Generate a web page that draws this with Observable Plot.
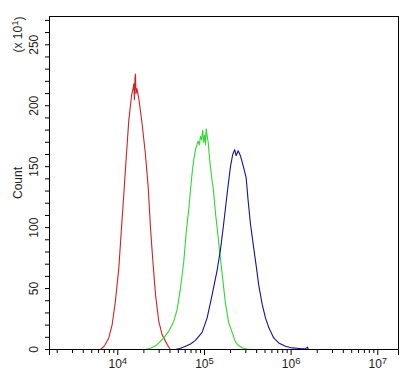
<!DOCTYPE html>
<html><head><meta charset="utf-8">
<script src="https://cdn.jsdelivr.net/npm/d3@7"></script>
<script src="https://cdn.jsdelivr.net/npm/@observablehq/plot@0.6"></script>
<style>body{margin:0;background:#fff}</style>
</head><body><div id="chart"></div>
<script>
// x positions are log10 of fluorescence intensity; counts are in units of 10
const redLog = [3.800, 3.847, 3.896, 3.935, 3.973, 4.012, 4.043, 4.069, 4.097, 4.127, 4.158, 4.176, 4.185, 4.192, 4.198, 4.204, 4.210, 4.221, 4.242, 4.281, 4.319, 4.351, 4.377, 4.404, 4.435, 4.473, 4.512, 4.570, 4.608];
const redCount = [0, 3, 9.5, 20.5, 40, 67, 100, 127, 157, 188, 208, 214, 218, 205, 222, 226, 210, 214, 206, 185, 160, 133, 100, 73, 45, 23, 12, 4, 0];

const greenLog = [4.319, 4.377, 4.435, 4.473, 4.531, 4.588, 4.646, 4.685, 4.723, 4.761, 4.789, 4.819, 4.839, 4.858, 4.877, 4.896, 4.927, 4.942, 4.954, 4.968, 4.980, 4.992, 5.003, 5.012, 5.020, 5.030, 5.043, 5.061, 5.089, 5.100, 5.107, 5.127, 5.146, 5.176, 5.204, 5.242, 5.280, 5.320, 5.358, 5.396, 5.450, 5.519];
const greenCount = [0, 1, 3, 5.5, 9.5, 15, 23, 33, 50, 72, 96, 115, 131, 145, 156, 164, 171, 168, 175, 172, 180, 170, 176, 168, 181, 176, 170, 155, 138, 133, 128, 112, 100, 80, 62, 38, 22, 14, 6, 3, 1, 0];

const blueLog = [4.666, 4.723, 4.781, 4.839, 4.896, 4.973, 5.031, 5.089, 5.146, 5.185, 5.223, 5.262, 5.300, 5.326, 5.349, 5.365, 5.389, 5.415, 5.453, 5.481, 5.504, 5.531, 5.569, 5.600, 5.626, 5.666, 5.704, 5.742, 5.799, 5.857, 5.934, 6.012, 6.069, 6.127, 6.165, 6.188, 6.199];
const blueCount = [0, 1, 2.7, 4.5, 7.5, 14, 26, 45, 65, 82, 104, 128, 150, 160, 164, 159, 163, 159, 149, 141, 122, 103, 83, 67, 53, 37, 26, 18, 9.5, 5.4, 2.7, 1.3, 1, 0.5, 0.5, 2, 0];

const yTickLabels = [0, 50, 100, 150, 200, 250];
const xDecades = [1e4, 1e5, 1e6, 1e7];
const xTickLabels = ["10\u2074", "10\u2075", "10\u2076", "10\u2077"];
const yLabel = "Count";
const yUnit = "(x 10\u00b9)";

const xDomain = [10 ** 3.212, 10 ** 7.239];
const yMinor = d3.range(0, 271, 10);
const xMinor = [];
for (let e = 3; e <= 7; e++) for (let m = 2; m <= 9; m++) {
  const v = m * 10 ** e;
  if (v > xDomain[0] && v < xDomain[1]) xMinor.push(v);
}

const toRows = (L, C) => L.map((l, i) => ({x: 10 ** l, y: C[i]}));
const red = toRows(redLog, redCount);
const green = toRows(greenLog, greenCount);
const blue = toRows(blueLog, blueCount);

const chart = Plot.plot({
  width: 418, height: 377,
  marginLeft: 49, marginRight: 20, marginTop: 16, marginBottom: 28,
  style: {fontFamily: "'Liberation Sans', Arial, sans-serif", fontSize: "12px", color: "#222", background: "#fff"},
  x: {type: "log", domain: xDomain},
  y: {domain: [0, 273.2]},
  marks: [
    Plot.line(red, {x: "x", y: "y", stroke: "#cf2323", strokeWidth: 1.1}),
    Plot.line(green, {x: "x", y: "y", stroke: "#30d830", strokeWidth: 1.1}),
    Plot.line(blue, {x: "x", y: "y", stroke: "#14148c", strokeWidth: 1.1}),
    Plot.frame({stroke: "black", strokeWidth: 1}),
    Plot.axisY({ticks: yMinor, tickSize: 4, tickFormat: () => "", label: null, stroke: "black"}),
    Plot.text(yTickLabels, {y: d => d, frameAnchor: "left", textAnchor: "middle", lineAnchor: "middle", dx: -15, rotate: -90, fontSize: 12, fill: "#222", text: d => String(d)}),
    Plot.axisX({ticks: xMinor, tickSize: 4, tickFormat: () => "", label: null, stroke: "black"}),
    Plot.axisX({ticks: xDomain, tickSize: 6, tickFormat: () => "", label: null, stroke: "black"}),
    Plot.axisX({ticks: xDecades, tickSize: 6, tickPadding: 4, tickFormat: (d) => xTickLabels[xDecades.indexOf(d)], label: null, stroke: "black", fontSize: 12, fill: "#222"}),
    Plot.text([yLabel], {frameAnchor: "left", textAnchor: "middle", lineAnchor: "middle", dx: -31, rotate: -90, fontSize: 12, fill: "#222"}),
    Plot.text([yUnit], {frameAnchor: "top-left", textAnchor: "middle", lineAnchor: "middle", dx: -31, dy: 18, rotate: -90, fontSize: 12, fill: "#222"})
  ]
});
document.getElementById("chart").appendChild(chart);

// render unicode superscripts as raised, smaller digits (still real text)
const sup = {"\u00b9": "1", "\u2074": "4", "\u2075": "5", "\u2076": "6", "\u2077": "7"};
d3.select(chart).selectAll("text, tspan").each(function () {
  if (this.children.length) return;
  const t = this.textContent;
  const m = t.match(/^(.*?10)([\u00b9\u2074-\u2077])(.*)$/);
  if (!m) return;
  const el = d3.select(this);
  el.text(null);
  el.append("tspan").text(m[1]);
  el.append("tspan").attr("dy", "-0.45em").attr("font-size", "9.5px").text(sup[m[2]]);
  if (m[3]) el.append("tspan").attr("dy", "0.45em").text(m[3]);
});
</script>
</body></html>
